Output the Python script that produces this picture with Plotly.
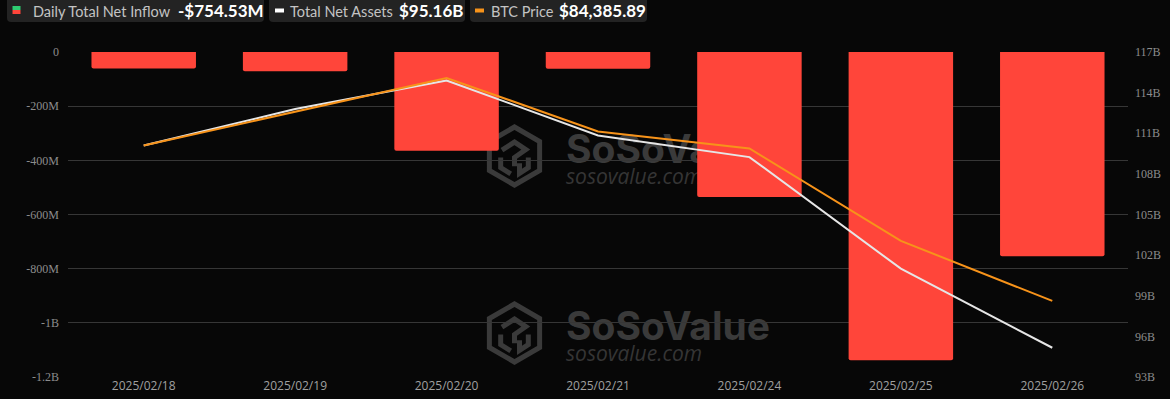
import plotly.graph_objects as go

# ---------------- data ----------------
dates = ["2025/02/18", "2025/02/19", "2025/02/20", "2025/02/21",
         "2025/02/24", "2025/02/25", "2025/02/26"]
net_inflow_m = [-60.6, -71.1, -364.8, -62.1, -535.0, -1138.0, -754.53]      # USD millions
total_assets_b = [110.10, 112.79, 114.90, 110.83, 109.24, 101.00, 95.16]    # USD billions
btc_price = [94089, 96195, 98300, 94964, 93902, 88135, 84385.89]           # USD

left_tickvals = [0, -200, -400, -600, -800, -1000, -1200]
left_ticktext = ["0", "-200M", "-400M", "-600M", "-800M", "-1B", "-1.2B"]
right_tickvals = [117, 114, 111, 108, 105, 102, 99, 96, 93]
right_ticktext = ["117B", "114B", "111B", "108B", "105B", "102B", "99B", "96B", "93B"]

# ---------------- layout geometry ----------------
W, H = 1170, 399
ML, MR, MT, MB = 68, 42, 52, 22
PW, PH = W - ML - MR, H - MT - MB


def fx(p):
    return (p - ML) / PW


def fy(p):
    return (H - MB - p) / PH


BG = "#070707"
GRID = "#363636"
RED = "#ff453a"
ORANGE = "#f7931a"
WHITE = "#e6e6e6"

fig = go.Figure()

fig.add_trace(go.Bar(x=dates, y=net_inflow_m, marker=dict(color=RED, line=dict(width=0)),
                     name="Daily Total Net Inflow", yaxis="y"))
fig.add_trace(go.Scatter(x=dates, y=total_assets_b, mode="lines",
                         line=dict(color=WHITE, width=2), name="Total Net Assets", yaxis="y2"))
fig.add_trace(go.Scatter(x=dates, y=btc_price, mode="lines",
                         line=dict(color=ORANGE, width=2), name="BTC Price", yaxis="y3"))

shapes = []
annotations = []


def rounded_rect(x0, y0, x1, y1, r):
    pts = [
        f"M {fx(x0 + r)},{fy(y0)}",
        f"L {fx(x1 - r)},{fy(y0)}",
        f"Q {fx(x1)},{fy(y0)} {fx(x1)},{fy(y0 + r)}",
        f"L {fx(x1)},{fy(y1 - r)}",
        f"Q {fx(x1)},{fy(y1)} {fx(x1 - r)},{fy(y1)}",
        f"L {fx(x0 + r)},{fy(y1)}",
        f"Q {fx(x0)},{fy(y1)} {fx(x0)},{fy(y1 - r)}",
        f"L {fx(x0)},{fy(y0 + r)}",
        f"Q {fx(x0)},{fy(y0)} {fx(x0 + r)},{fy(y0)}",
        "Z",
    ]
    return " ".join(pts)


# ---------------- legend header ----------------
LEG_BG = "#232323"
boxes = [(7, 264), (269, 465), (470, 647)]
for (a, b) in boxes:
    shapes.append(dict(type="path", xref="paper", yref="paper",
                       path=rounded_rect(a, -4, b, 22, 4),
                       fillcolor=LEG_BG, line=dict(width=0), layer="above"))

# icon 1: green/red square
shapes.append(dict(type="rect", xref="paper", yref="paper", x0=fx(12.5), x1=fx(20.5),
                   y0=fy(10), y1=fy(6), fillcolor="#2ecc71", line=dict(width=0)))
shapes.append(dict(type="rect", xref="paper", yref="paper", x0=fx(12.5), x1=fx(20.5),
                   y0=fy(14), y1=fy(10), fillcolor=RED, line=dict(width=0)))
# icon 2, 3: dashes
shapes.append(dict(type="line", xref="paper", yref="paper", x0=fx(275), x1=fx(284),
                   y0=fy(10.5), y1=fy(10.5), line=dict(color="#ffffff", width=4)))
shapes.append(dict(type="line", xref="paper", yref="paper", x0=fx(475), x1=fx(484),
                   y0=fy(10.5), y1=fy(10.5), line=dict(color=ORANGE, width=4)))

LBL_FONT = dict(family="Lato, sans-serif", size=14.5, color="#c4c4c4")
VAL_FONT = dict(family="Lato, sans-serif", size=17, color="#ffffff")
legend_items = [
    (31, "Daily Total Net Inflow", 176, f"-${abs(net_inflow_m[-1]):,.2f}M"),
    (288, "Total Net Assets", 397, f"${total_assets_b[-1]:,.2f}B"),
    (489, "BTC Price", 557, f"${btc_price[-1]:,.2f}"),
]
for (lx, ltxt, vx, vtxt) in legend_items:
    annotations.append(dict(xref="paper", yref="paper", x=fx(lx), y=fy(11), text=ltxt,
                            showarrow=False, xanchor="left", yanchor="middle",
                            font=LBL_FONT))
    annotations.append(dict(xref="paper", yref="paper", x=fx(vx), y=fy(10.5), text=f"<b>{vtxt}</b>",
                            showarrow=False, xanchor="left", yanchor="middle",
                            font=VAL_FONT))

# ---------------- watermarks ----------------
WM = "#3a3a3a"


def logo_path(cx, cy, r):
    k = 0.866 * r
    hexa = [(cx, cy - r), (cx + k, cy - r / 2), (cx + k, cy + r / 2), (cx, cy + r),
            (cx - k, cy + r / 2), (cx - k, cy - r / 2)]
    p = "M " + " L ".join(f"{fx(a)},{fy(b)}" for a, b in hexa) + " Z"
    inner = [
        [(cx - 0.5 * k, cy - 0.2 * r), (cx, cy - 0.48 * r), (cx + 0.45 * k, cy - 0.22 * r),
         (cx, cy + 0.05 * r), (cx, cy + 0.35 * r)],
        [(cx - 0.55 * k, cy + 0.05 * r), (cx - 0.55 * k, cy + 0.4 * r), (cx - 0.15 * k, cy + 0.62 * r)],
        [(cx + 0.55 * k, cy + 0.05 * r), (cx + 0.55 * k, cy + 0.4 * r), (cx + 0.2 * k, cy + 0.6 * r),
         (cx + 0.2 * k, cy + 0.25 * r)],
    ]
    for seg in inner:
        p += " M " + " L ".join(f"{fx(a)},{fy(b)}" for a, b in seg)
    return p


for off in (0, 177):
    cy = 156 + off
    shapes.append(dict(type="path", xref="paper", yref="paper", path=logo_path(514.5, cy, 29),
                       line=dict(color=WM, width=5), fillcolor="rgba(0,0,0,0)", layer="below"))
    shapes.append(dict(type="rect", xref="paper", yref="paper", x0=fx(563), x1=fx(840),
                       y0=fy(cy - 9 + 18), y1=fy(cy - 9 - 18), line=dict(width=0),
                       fillcolor="rgba(0,0,0,0)", layer="below",
                       label=dict(text="<b>SoSoValue</b>", textposition="middle left", padding=0,
                                  font=dict(family="Inter, sans-serif", size=39, color=WM))))
    shapes.append(dict(type="rect", xref="paper", yref="paper", x0=fx(563), x1=fx(840),
                       y0=fy(cy + 21 + 12), y1=fy(cy + 21 - 12), line=dict(width=0),
                       fillcolor="rgba(0,0,0,0)", layer="below",
                       label=dict(text="<i>sosovalue.com</i>", textposition="middle left", padding=0,
                                  font=dict(family="Open Sans, sans-serif", size=21, color="#353535"))))

fig.update_layout(
    width=W, height=H,
    margin=dict(l=ML, r=MR, t=MT, b=MB, autoexpand=False),
    paper_bgcolor=BG, plot_bgcolor="rgba(0,0,0,0)",
    showlegend=False,
    bargap=0.31,
    barcornerradius=2,
    xaxis=dict(type="category", showgrid=False, zeroline=False, showline=False, ticks="",
               automargin=False,
               tickfont=dict(family="Open Sans, sans-serif", size=12, color="#a0a0a0"),
               fixedrange=True),
    yaxis=dict(range=[-1200, 0], tickvals=left_tickvals, ticktext=left_ticktext,
               showgrid=True, gridcolor=GRID, gridwidth=1, zeroline=False, showline=False,
               ticks="", ticklabelstandoff=8, automargin=False,
               tickfont=dict(family="Liberation Serif, Times New Roman, serif", size=12, color="#8c8c8c")),
    yaxis2=dict(range=[93, 117], tickvals=right_tickvals, ticktext=right_ticktext,
                overlaying="y", side="right", showgrid=False, zeroline=False, showline=False,
                ticks="", ticklabelstandoff=6, automargin=False,
                tickfont=dict(family="Liberation Serif, Times New Roman, serif", size=12, color="#8c8c8c")),
    yaxis3=dict(range=[79640, 99920], overlaying="y", visible=False, automargin=False),
    shapes=shapes,
    annotations=annotations,
)

fig.write_html("out.html", include_plotlyjs=True, config={"displayModeBar": False})
